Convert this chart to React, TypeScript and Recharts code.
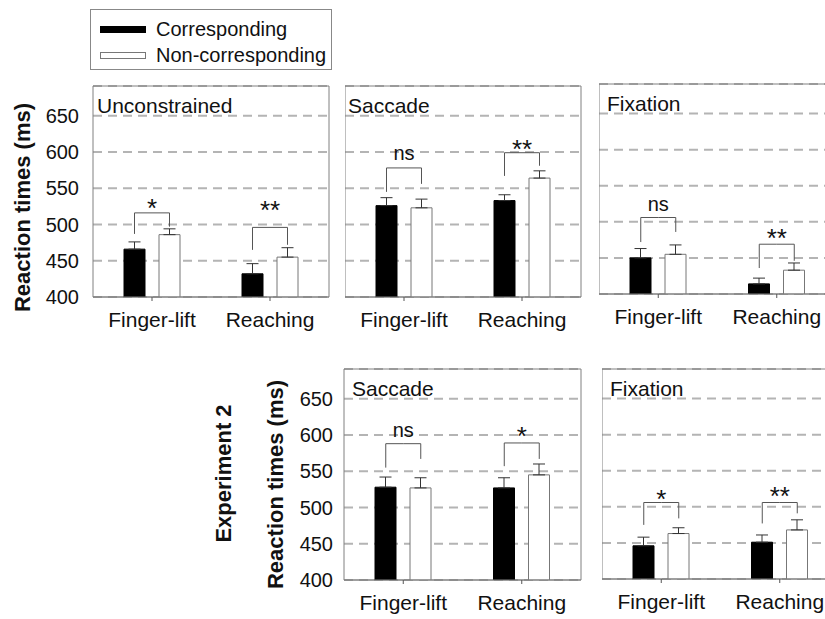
import {
  BarChart,
  Bar,
  XAxis,
  YAxis,
  CartesianGrid,
  ErrorBar,
  ReferenceArea,
  ReferenceLine,
  ReferenceDot,
  Legend,
  Label,
} from 'recharts'

const FONT = '"Liberation Sans", Arial, Helvetica, sans-serif'

const categories = ['Finger-lift', 'Reaching']
const yTicks = [400, 450, 500, 550, 600, 650]
const Y_MIN = 400
const Y_MAX = 691

// Experiment 1 – unconstrained
const unconstrainedCorr = [466, 432]
const unconstrainedCorrErr = [10, 14]
const unconstrainedNon = [486, 455]
const unconstrainedNonErr = [8, 13]

// Experiment 1 – saccade
const saccade1Corr = [526, 533]
const saccade1CorrErr = [11, 8]
const saccade1Non = [523, 564]
const saccade1NonErr = [12, 10]

// Experiment 1 – fixation
const fixation1Corr = [450, 414]
const fixation1CorrErr = [13, 8]
const fixation1Non = [455, 433]
const fixation1NonErr = [13, 10]

// Experiment 2 – saccade
const saccade2Corr = [528, 527]
const saccade2CorrErr = [14, 14]
const saccade2Non = [527, 545]
const saccade2NonErr = [14, 15]

// Experiment 2 – fixation
const fixation2Corr = [446, 451]
const fixation2CorrErr = [12, 10]
const fixation2Non = [463, 468]
const fixation2NonErr = [8, 14]

// significance brackets: height of the bracket, leg ends, mark and where the mark sits
type Bracket = { top: number; left: number; right: number; mark: string; markAt: number }

const unconstrainedBrackets: Bracket[] = [
  { top: 516, left: 487, right: 497, mark: '*', markAt: 531 },
  { top: 496, left: 465, right: 472, mark: '**', markAt: 528 },
]
const saccade1Brackets: Bracket[] = [
  { top: 578, left: 545, right: 556, mark: 'ns', markAt: 597 },
  { top: 599, left: 567, right: 581, mark: '**', markAt: 613 },
]
const fixation1Brackets: Bracket[] = [
  { top: 506, left: 472, right: 486, mark: 'ns', markAt: 523 },
  { top: 469, left: 436, right: 446, mark: '**', markAt: 486 },
]
const saccade2Brackets: Bracket[] = [
  { top: 588, left: 555, right: 567, mark: 'ns', markAt: 604 },
  { top: 589, left: 557, right: 567, mark: '*', markAt: 607 },
]
const fixation2Brackets: Bracket[] = [
  { top: 506, left: 475, right: 484, mark: '*', markAt: 520 },
  { top: 506, left: 477, right: 491, mark: '**', markAt: 523 },
]

const rows = (corr: number[], corrErr: number[], non: number[], nonErr: number[]) =>
  categories.map((name, i) => ({
    name,
    corr: corr[i],
    corrErr: [0, corrErr[i]],
    non: non[i],
    nonErr: [0, nonErr[i]],
  }))

const BAR = 21
const GAP = 14
const PAD = 4
const X_AXIS_H = 45
// distance from the band centre to each bar centre, as recharts lays them out
const BAR_OFFSET = (BAR + GAP) / 2

// one half of a bracket: a leg at a bar centre plus the top line back to the band centre
const bracketHalf = (dir: -1 | 1) => (p: any) => {
  const xc = p.x1 + dir * BAR_OFFSET
  return <path d={`M${xc},${p.y1}V${p.y2}H${p.x1}`} stroke="#555" strokeWidth={1} fill="none" />
}

const LegendBox = (props: any) => (
  <div
    style={{
      width: 242,
      height: 61,
      boxSizing: 'border-box',
      border: '1px solid #888',
      background: '#fff',
      padding: '6px 0 0 9px',
      fontFamily: FONT,
      fontSize: 20,
      color: '#111',
    }}
  >
    {(props.payload ?? []).map((entry: any, i: number) => (
      <div key={entry.value} style={{ display: 'flex', alignItems: 'center', height: 26 }}>
        <svg width={46} height={7} style={{ marginRight: 10 }}>
          <rect
            x={0.5}
            y={0.5}
            width={45}
            height={6}
            fill={i === 0 ? '#000' : '#fff'}
            stroke={i === 0 ? '#000' : '#777'}
          />
        </svg>
        <span>{entry.value}</span>
      </div>
    ))}
  </div>
)

type AxisTitle = { text: string; dx: number; dy: number }

type PanelProps = {
  left: number
  top: number
  width: number
  height: number
  title: string
  titleDx: number
  data: ReturnType<typeof rows>
  brackets: Bracket[]
  axisWidth?: number
  tickMargin?: number
  axisTitles?: AxisTitle[]
  legendAt?: { x: number; y: number }
}

function Panel({
  left,
  top,
  width,
  height,
  title,
  titleDx,
  data,
  brackets,
  axisWidth = 0,
  tickMargin = 8,
  axisTitles = [],
  legendAt,
}: PanelProps) {
  return (
    <div style={{ position: 'absolute', left: left - axisWidth, top: top - PAD }}>
      <BarChart
        width={axisWidth + width + 2}
        height={PAD + height + X_AXIS_H}
        data={data}
        margin={{ top: PAD, right: 1, bottom: 0, left: 0 }}
        barSize={BAR}
        barGap={GAP}
      >
        <CartesianGrid vertical={false} stroke="#b4b4b4" strokeWidth={2} strokeDasharray="9 6" />
        <XAxis
          dataKey="name"
          interval={0}
          height={X_AXIS_H}
          tick={{ fontSize: 21, fill: '#111' }}
          tickSize={4}
          tickMargin={11}
          tickLine={{ stroke: '#555' }}
          axisLine={{ stroke: '#808080' }}
        />
        <YAxis
          domain={[Y_MIN, Y_MAX]}
          ticks={yTicks}
          hide={!axisWidth}
          width={axisWidth}
          axisLine={false}
          tickLine={false}
          tickSize={6}
          tickMargin={tickMargin}
          tick={{ fontSize: 20, fill: '#111' }}
          allowDataOverflow
        >
          {axisTitles.map(t => (
            <Label
              key={t.text}
              content={(p: any) => {
                const vb = p.viewBox
                const cx = vb.x + t.dx
                const cy = vb.y + vb.height / 2 + t.dy
                return (
                  <text
                    x={cx}
                    y={cy}
                    transform={`rotate(-90 ${cx} ${cy})`}
                    textAnchor="middle"
                    dominantBaseline="central"
                    fontSize={22}
                    fontWeight="bold"
                    fill="#111"
                  >
                    {t.text}
                  </text>
                )
              }}
            />
          ))}
        </YAxis>
        <ReferenceArea y1={Y_MIN} y2={Y_MAX} fill="none" stroke="#808080" strokeWidth={1} ifOverflow="visible">
          <Label
            content={(p: any) => (
              <text x={p.viewBox.x + titleDx} y={p.viewBox.y + 27} fontSize={21} fill="#111">
                {title}
              </text>
            )}
          />
        </ReferenceArea>
        <Bar dataKey="corr" name="Corresponding" fill="#000" stroke="#000" isAnimationActive={false}>
          <ErrorBar dataKey="corrErr" direction="y" width={6} stroke="#333" strokeWidth={1} />
        </Bar>
        <Bar dataKey="non" name="Non-corresponding" fill="#fff" stroke="#777" isAnimationActive={false}>
          <ErrorBar dataKey="nonErr" direction="y" width={6} stroke="#333" strokeWidth={1} />
        </Bar>
        {brackets.flatMap((b, i) => {
          const cat = categories[i]
          const isStar = b.mark !== 'ns'
          return [
            <ReferenceLine
              key={`l${i}`}
              segment={[{ x: cat, y: b.left }, { x: cat, y: b.top }]}
              shape={bracketHalf(-1)}
            />,
            <ReferenceLine
              key={`r${i}`}
              segment={[{ x: cat, y: b.right }, { x: cat, y: b.top }]}
              shape={bracketHalf(1)}
            />,
            <ReferenceDot
              key={`m${i}`}
              x={cat}
              y={b.markAt}
              r={0}
              shape={(p: any) => (
                <text
                  x={p.cx}
                  y={p.cy}
                  textAnchor="middle"
                  dominantBaseline="central"
                  dy={isStar ? '0.24em' : '-0.08em'}
                  fontSize={isStar ? 26 : 20}
                  fill="#111"
                >
                  {b.mark}
                </text>
              )}
            />,
          ]
        })}
        {legendAt && (
          <Legend
            layout="vertical"
            align="center"
            verticalAlign="middle"
            content={LegendBox}
            wrapperStyle={{ left: legendAt.x - (left - axisWidth), top: legendAt.y - (top - PAD) }}
          />
        )}
      </BarChart>
    </div>
  )
}

export default function App() {
  return (
    <div
      style={{
        position: 'fixed',
        left: 0,
        top: 0,
        width: 825,
        height: 619,
        overflow: 'hidden',
        background: '#fff',
        fontFamily: FONT,
      }}
    >
      <Panel
        left={93}
        top={86}
        width={235}
        height={211}
        title="Unconstrained"
        titleDx={4}
        data={rows(unconstrainedCorr, unconstrainedCorrErr, unconstrainedNon, unconstrainedNonErr)}
        brackets={unconstrainedBrackets}
        axisWidth={93}
        tickMargin={8}
        axisTitles={[{ text: 'Reaction times (ms)', dx: 22, dy: 16 }]}
        legendAt={{ x: 90, y: 9 }}
      />
      <Panel
        left={345}
        top={86}
        width={235}
        height={211}
        title="Saccade"
        titleDx={3}
        data={rows(saccade1Corr, saccade1CorrErr, saccade1Non, saccade1NonErr)}
        brackets={saccade1Brackets}
      />
      <Panel
        left={599}
        top={84}
        width={236}
        height={210}
        title="Fixation"
        titleDx={8}
        data={rows(fixation1Corr, fixation1CorrErr, fixation1Non, fixation1NonErr)}
        brackets={fixation1Brackets}
      />
      <Panel
        left={344}
        top={369}
        width={236}
        height={211}
        title="Saccade"
        titleDx={8}
        data={rows(saccade2Corr, saccade2CorrErr, saccade2Non, saccade2NonErr)}
        brackets={saccade2Brackets}
        axisWidth={144}
        tickMargin={5}
        axisTitles={[
          { text: 'Experiment 2', dx: 23, dy: -1 },
          { text: 'Reaction times (ms)', dx: 75, dy: 10 },
        ]}
      />
      <Panel
        left={602}
        top={369}
        width={236}
        height={210}
        title="Fixation"
        titleDx={8}
        data={rows(fixation2Corr, fixation2CorrErr, fixation2Non, fixation2NonErr)}
        brackets={fixation2Brackets}
      />
    </div>
  )
}
